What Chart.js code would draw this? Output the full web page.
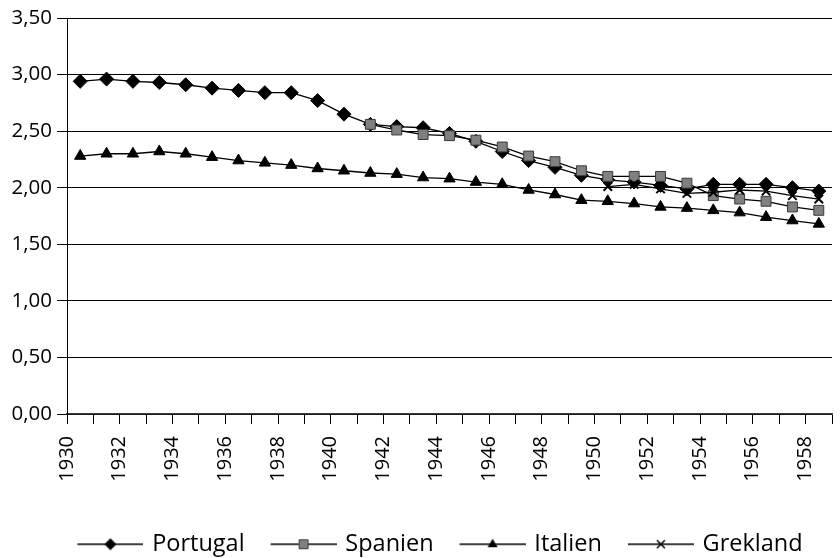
<!DOCTYPE html>
<html><head><meta charset="utf-8">
<script src="https://cdn.jsdelivr.net/npm/chart.js@4"></script>
<style>html,body{margin:0;padding:0;background:#fff}#wrap{width:840px;height:558px;position:relative}</style>
</head><body><div id="wrap"><canvas id="c"></canvas></div>
<script>
const years = [1930,1931,1932,1933,1934,1935,1936,1937,1938,1939,1940,1941,1942,1943,1944,1945,1946,1947,1948,1949,1950,1951,1952,1953,1954,1955,1956,1957,1958];
const portugal = [2.94,2.96,2.94,2.93,2.91,2.88,2.86,2.84,2.84,2.77,2.65,2.56,2.54,2.53,2.48,2.41,2.32,2.24,2.18,2.11,2.07,2.05,2.02,1.99,2.03,2.03,2.03,2.00,1.97];
const spanien = [null,null,null,null,null,null,null,null,null,null,null,2.56,2.51,2.47,2.46,2.42,2.36,2.28,2.23,2.15,2.10,2.10,2.10,2.04,1.93,1.90,1.88,1.83,1.80];
const italien = [2.28,2.30,2.30,2.32,2.30,2.27,2.24,2.22,2.20,2.17,2.15,2.13,2.12,2.09,2.08,2.05,2.03,1.98,1.94,1.89,1.88,1.86,1.83,1.82,1.80,1.78,1.74,1.71,1.68];
const grekland = [null,null,null,null,null,null,null,null,null,null,null,null,null,null,null,null,null,null,null,null,2.01,2.03,1.99,1.95,1.96,1.98,1.97,1.93,1.90];
const seriesNames = ['Portugal','Spanien','Italien','Grekland'];
const yTicks = [0,0.5,1,1.5,2,2.5,3,3.5];

const FONT = "'Open Sans', 'Noto Sans', sans-serif";

function makeIcon(kind) {
  const c = document.createElement('canvas');
  c.width = 92; c.height = 20;
  const g = c.getContext('2d');
  g.strokeStyle = '#000'; g.lineWidth = 1.3;
  g.beginPath(); g.moveTo(26, 10); g.lineTo(92, 10); g.stroke();
  const cx = 59, cy = 10;
  g.beginPath();
  if (kind === 0) {
    g.fillStyle = '#000';
    g.moveTo(cx, cy - 6); g.lineTo(cx + 6, cy); g.lineTo(cx, cy + 6); g.lineTo(cx - 6, cy); g.closePath(); g.fill();
  } else if (kind === 1) {
    g.fillStyle = '#808080'; g.strokeStyle = '#404040'; g.lineWidth = 1;
    g.rect(cx - 4.5, cy - 4.5, 9, 9); g.fill(); g.stroke();
  } else if (kind === 2) {
    g.fillStyle = '#000';
    g.moveTo(cx, cy - 5.5); g.lineTo(cx + 5, cy + 3); g.lineTo(cx - 5, cy + 3); g.closePath(); g.fill();
  } else {
    g.strokeStyle = '#000'; g.lineWidth = 1.5;
    g.moveTo(cx - 4, cy - 4); g.lineTo(cx + 4, cy + 4); g.moveTo(cx + 4, cy - 4); g.lineTo(cx - 4, cy + 4); g.stroke();
  }
  return c;
}
const icons = [0,1,2,3].map(makeIcon);

const legendShift = {
  id: 'legendShift',
  afterLayout(chart) {
    const lg = chart.legend;
    if (!lg) return;
    lg.left += 9; lg.right += 9;
    lg.top += 8; lg.bottom += 8;
  }
};

const common = { borderColor: '#000', borderWidth: 1.3, tension: 0, fill: false, pointHoverRadius: 6 };

new Chart(document.getElementById('c'), {
  type: 'line',
  data: {
    labels: years,
    datasets: [
      Object.assign({}, common, { label: seriesNames[0], data: portugal, order: 4, pointStyle: 'rectRot', pointRadius: 7, pointBackgroundColor: '#000', pointBorderColor: '#000', pointBorderWidth: 1 }),
      Object.assign({}, common, { label: seriesNames[1], data: spanien, order: 3, pointStyle: 'rect', pointRadius: 7, pointBackgroundColor: '#808080', pointBorderColor: '#3a3a3a', pointBorderWidth: 1 }),
      Object.assign({}, common, { label: seriesNames[2], data: italien, order: 2, pointStyle: 'triangle', pointRadius: 6.5, pointBackgroundColor: '#000', pointBorderColor: '#000', pointBorderWidth: 1 }),
      Object.assign({}, common, { label: seriesNames[3], data: grekland, order: 1, pointStyle: 'crossRot', pointRadius: 6, pointBackgroundColor: '#000', pointBorderColor: '#000', pointBorderWidth: 2 })
    ]
  },
  options: {
    responsive: true,
    maintainAspectRatio: false,
    animation: false,
    devicePixelRatio: 1,
    layout: { padding: { top: 18, right: 1, left: 0, bottom: 0 } },
    plugins: {
      tooltip: { enabled: false },
      legend: {
        position: 'bottom',
        labels: {
          usePointStyle: true,
          pointStyleWidth: 86,
          boxHeight: 20,
          padding: 3,
          color: '#000',
          font: { family: FONT, size: 23.5 },
          generateLabels(chart) {
            const items = Chart.defaults.plugins.legend.labels.generateLabels(chart);
            items.sort((a, b) => a.datasetIndex - b.datasetIndex);
            items.forEach(it => { it.pointStyle = icons[it.datasetIndex]; it.lineWidth = 0; });
            return items;
          }
        }
      }
    },
    scales: {
      x: {
        type: 'category',
        offset: true,
        grid: { display: true, offset: true, drawOnChartArea: false, drawTicks: true, tickLength: 10, color: '#000', lineWidth: 1 },
        border: { display: true, color: '#3a3a3a', width: 1.5 },
        ticks: {
          autoSkip: false, maxRotation: 90, minRotation: 90, padding: 12, labelOffset: -13.3,
          color: '#000', font: { family: FONT, size: 20 },
          callback: (v, i) => (i % 2 === 0 ? String(years[i]) : '')
        },
        afterFit(scale) {
          scale.height = 558 - 414 - (scale.chart.legend ? scale.chart.legend.height : 0);
          scale.paddingLeft = 0; scale.paddingRight = 0;
        }
      },
      y: {
        min: 0, max: 3.5,
        afterBuildTicks(scale) { scale.ticks = yTicks.map(v => ({ value: v })); },
        grid: { color: '#000', lineWidth: 1, drawTicks: true, tickLength: 10 },
        border: { display: true, color: '#000', width: 1 },
        ticks: {
          padding: 5, color: '#000', font: { family: FONT, size: 20.5 },
          callback: v => Number(v).toFixed(2).replace('.', ',')
        },
        afterFit(scale) { scale.width = 67; }
      }
    }
  },
  plugins: [legendShift]
});
</script>
</body></html>
